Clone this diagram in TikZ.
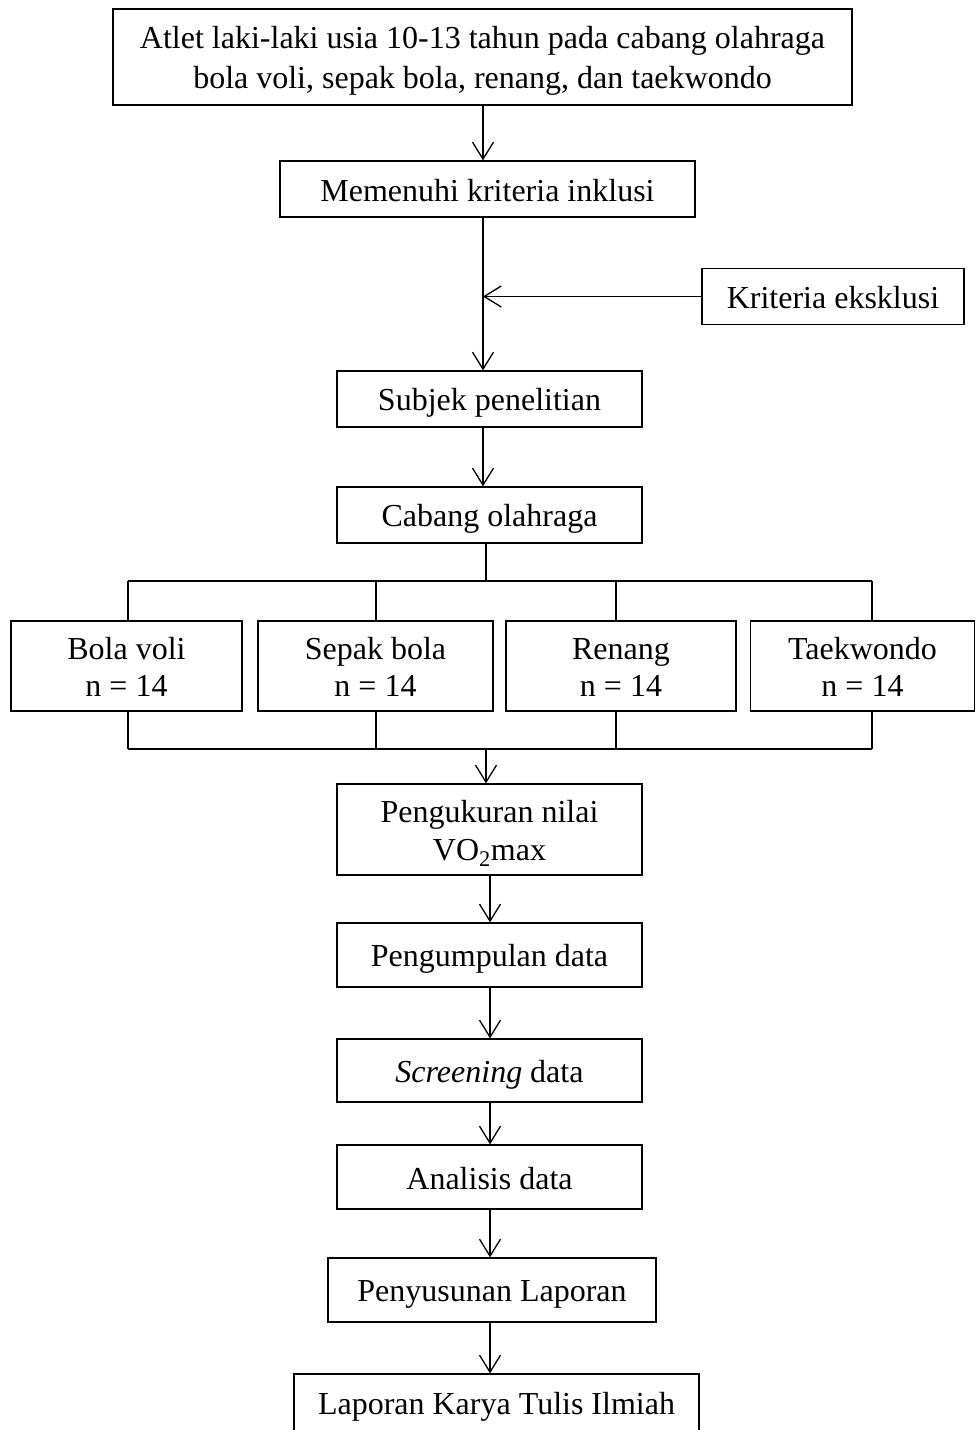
\documentclass[tikz,border=0pt]{standalone}
\usepackage{fontspec}
\setmainfont{Liberation Serif}
\usetikzlibrary{arrows.meta}
\newcommand\tstrut{\rule{0pt}{30pt}\rule[-6pt]{0pt}{6pt}}
\begin{document}
\begin{tikzpicture}[x=1pt,y=-1pt,
  box/.style={draw, line width=1.3pt, inner sep=0pt, align=center,
    font=\fontsize{32}{37}\selectfont},
  conn/.style={line width=1.3pt},
  arr/.style={line width=1.3pt, -{Straight Barb[length=17pt,width=21pt]}}]
\useasboundingbox (0,0) rectangle (975,1430);
\coordinate (cA) at (483,0);
\coordinate (cB) at (486,0);
\coordinate (cC) at (490,0);

\node[box, font=\fontsize{32}{40}\selectfont, minimum width=739pt, minimum height=96pt] (top) at (482.5,57)
  {\tstrut Atlet laki-laki usia 10-13 tahun pada cabang olahraga\\\tstrut bola voli, sepak bola, renang, dan taekwondo};
\node[box, minimum width=415pt, minimum height=56pt] (mem) at (487.5,189) {\tstrut Memenuhi kriteria inklusi};
\node[box, minimum width=262pt, minimum height=56pt] (kri) at (833,296.5) {\tstrut Kriteria eksklusi};
\node[box, minimum width=305pt, minimum height=56pt] (sub) at (489.5,399) {\tstrut Subjek penelitian};
\node[box, minimum width=305pt, minimum height=56pt] (cab) at (489.5,515) {\tstrut Cabang olahraga};

\node[box, minimum width=231pt, minimum height=90pt] (bv) at (126.5,666) {\tstrut Bola voli\\\tstrut n = 14};
\node[box, minimum width=235pt, minimum height=90pt] (sb) at (375.5,666) {\tstrut Sepak bola\\\tstrut n = 14};
\node[box, minimum width=230pt, minimum height=90pt] (rn) at (621,666) {\tstrut Renang\\\tstrut n = 14};
\node[box, minimum width=224pt, minimum height=90pt] (tk) at (862.5,666) {\tstrut Taekwondo\\\tstrut n = 14};

\node[box, font=\fontsize{32}{36}\selectfont, minimum width=305pt, minimum height=91pt] (ukr) at (489.5,829.5) {\tstrut Pengukuran nilai\\\tstrut VO\textsubscript{2}max};
\node[box, minimum width=305pt, minimum height=64pt] (kum) at (489.5,955) {\tstrut Pengumpulan data};
\node[box, minimum width=305pt, minimum height=63pt] (scr) at (489.5,1070.5) {\tstrut\textit{Screening} data};
\node[box, minimum width=305pt, minimum height=64pt] (ana) at (489.5,1177) {\tstrut Analisis data};
\node[box, minimum width=328pt, minimum height=64pt] (lap) at (492,1290) {\tstrut Penyusunan Laporan};
\node[box, minimum width=405pt, minimum height=84pt] (kti) at (496.5,1416) {};
\node[font=\fontsize{32}{37}\selectfont, anchor=base, inner sep=0pt] (ktit) at (496.5,1414) {Laporan Karya Tulis Ilmiah};

% top section
\draw[arr] (top.south -| cA) -- (mem.north -| cA);
\draw[arr] (mem.south -| cA) -- (sub.north -| cA);
\draw[arr] (kri.west) -- (kri.west -| cA);
\draw[arr] (sub.south -| cA) -- (cab.north -| cA);

% branching
\coordinate (b1) at (128,581);
\coordinate (b2) at (376,581);
\coordinate (b3) at (616,581);
\coordinate (b4) at (872,581);
\coordinate (m1) at (128,749);
\coordinate (m2) at (376,749);
\coordinate (m3) at (616,749);
\coordinate (m4) at (872,749);
\draw[conn] (cab.south -| cB) -- (b1 -| cB);
\draw[conn] (b1) -- (b4);
\draw[conn] (b1) -- (b1 |- bv.north);
\draw[conn] (b2) -- (b2 |- sb.north);
\draw[conn] (b3) -- (b3 |- rn.north);
\draw[conn] (b4) -- (b4 |- tk.north);
\draw[conn] (m1 |- bv.south) -- (m1);
\draw[conn] (m2 |- sb.south) -- (m2);
\draw[conn] (m3 |- rn.south) -- (m3);
\draw[conn] (m4 |- tk.south) -- (m4);
\draw[conn] (m1) -- (m4);
\draw[arr] (m1 -| cB) -- (ukr.north -| cB);

% lower column
\draw[arr] (ukr.south -| cC) -- (kum.north -| cC);
\draw[arr] (kum.south -| cC) -- (scr.north -| cC);
\draw[arr] (scr.south -| cC) -- (ana.north -| cC);
\draw[arr] (ana.south -| cC) -- (lap.north -| cC);
\draw[arr] (lap.south -| cC) -- (kti.north -| cC);
\end{tikzpicture}
\end{document}
